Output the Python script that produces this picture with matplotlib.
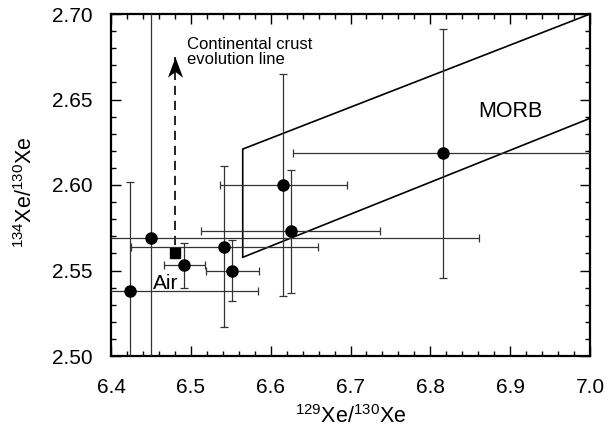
import matplotlib
matplotlib.use("Agg")
import matplotlib.pyplot as plt
import numpy as np
from matplotlib.path import Path
from matplotlib.ticker import MultipleLocator

plt.rcParams['font.family'] = ['Liberation Sans', 'DejaVu Sans']
plt.rcParams['mathtext.default'] = 'regular'

# Sample data: 129Xe/130Xe vs 134Xe/130Xe with 1-sigma errors
xe129 = [6.424, 6.450, 6.492, 6.542, 6.552, 6.616, 6.625, 6.816]
xe134 = [2.538, 2.569, 2.553, 2.564, 2.550, 2.600, 2.573, 2.6185]
xe129_err = [0.160, 0.411, 0.026, 0.117, 0.033, 0.079, 0.112, 0.188]
xe134_err = [0.064, 0.150, 0.013, 0.047, 0.018, 0.065, 0.036, 0.073]

# Air composition
air_x = [6.480]
air_y = [2.5604]

# Continental crust evolution line (dashed arrow)
crust_x = [6.480, 6.480]
crust_y = [2.5650, 2.6747]

# MORB field outline
morb_x = [7.0, 6.565, 6.565, 7.0]
morb_y = [2.700, 2.621, 2.5577, 2.639]

xticks = [6.4, 6.5, 6.6, 6.7, 6.8, 6.9, 7.0]
yticks = [2.50, 2.55, 2.60, 2.65, 2.70]

fig = plt.figure(figsize=(6.08, 4.34), dpi=100)
ax = fig.add_axes([111/608, 1-356/434, (590-111)/608, (356-14)/434])

ax.errorbar(xe129, xe134, xerr=xe129_err, yerr=xe134_err, fmt='o',
            color='black', ecolor='0.2', elinewidth=0.9, capsize=3.2,
            capthick=0.9, markersize=8, zorder=3)

ax.plot(air_x, air_y, 's', color='black', markersize=7.5, zorder=4)

# dashed evolution line + arrow head
ax.plot(crust_x, crust_y, color='black', lw=1.2, linestyle=(0, (5.5, 3.5)), zorder=2)
head = Path([(0, 0), (0.375, -1.0), (0, -0.72), (-0.375, -1.0), (0, 0)],
            [Path.MOVETO, Path.LINETO, Path.LINETO, Path.LINETO, Path.CLOSEPOLY])
ax.plot([crust_x[-1]], [crust_y[-1]], marker=head, markersize=29,
        color='black', markeredgewidth=0, zorder=4)

ax.plot(morb_x, morb_y, color='black', lw=1.2, zorder=2, clip_on=False)

ax.text(6.4956, 2.6865, 'Continental crust\nevolution line', fontsize=12,
        ha='left', va='top', linespacing=1.0)
ax.text(6.860, 2.6396, 'MORB', fontsize=15.5, ha='left', va='baseline')
ax.text(6.453, 2.5392, 'Air', fontsize=15, ha='left', va='baseline')

ax.set_xlim(6.4, 7.0)
ax.set_ylim(2.50, 2.70)
ax.set_xticks(xticks)
ax.set_xticklabels([f'{v:.1f}' for v in xticks])
ax.set_yticks(yticks)
ax.set_yticklabels([f'{v:.2f}' for v in yticks])
ax.xaxis.set_minor_locator(MultipleLocator(0.02))
ax.yaxis.set_minor_locator(MultipleLocator(0.01))
ax.tick_params(which='both', direction='in', top=True, right=True, width=1.0)
ax.tick_params(which='major', length=7, labelsize=15)
ax.tick_params(axis='x', which='major', pad=16)
ax.tick_params(axis='y', which='major', pad=13)
ax.tick_params(which='minor', length=3.5)
for s in ax.spines.values():
    s.set_linewidth(1.6)

ax.set_xlabel('$^{129}$Xe/$^{130}$Xe', fontsize=15.5, labelpad=6)
ax.set_ylabel('$^{134}$Xe/$^{130}$Xe', fontsize=15.5)
ax.yaxis.set_label_coords(-0.155, 0.48)

fig.savefig('out.png', dpi=100)
